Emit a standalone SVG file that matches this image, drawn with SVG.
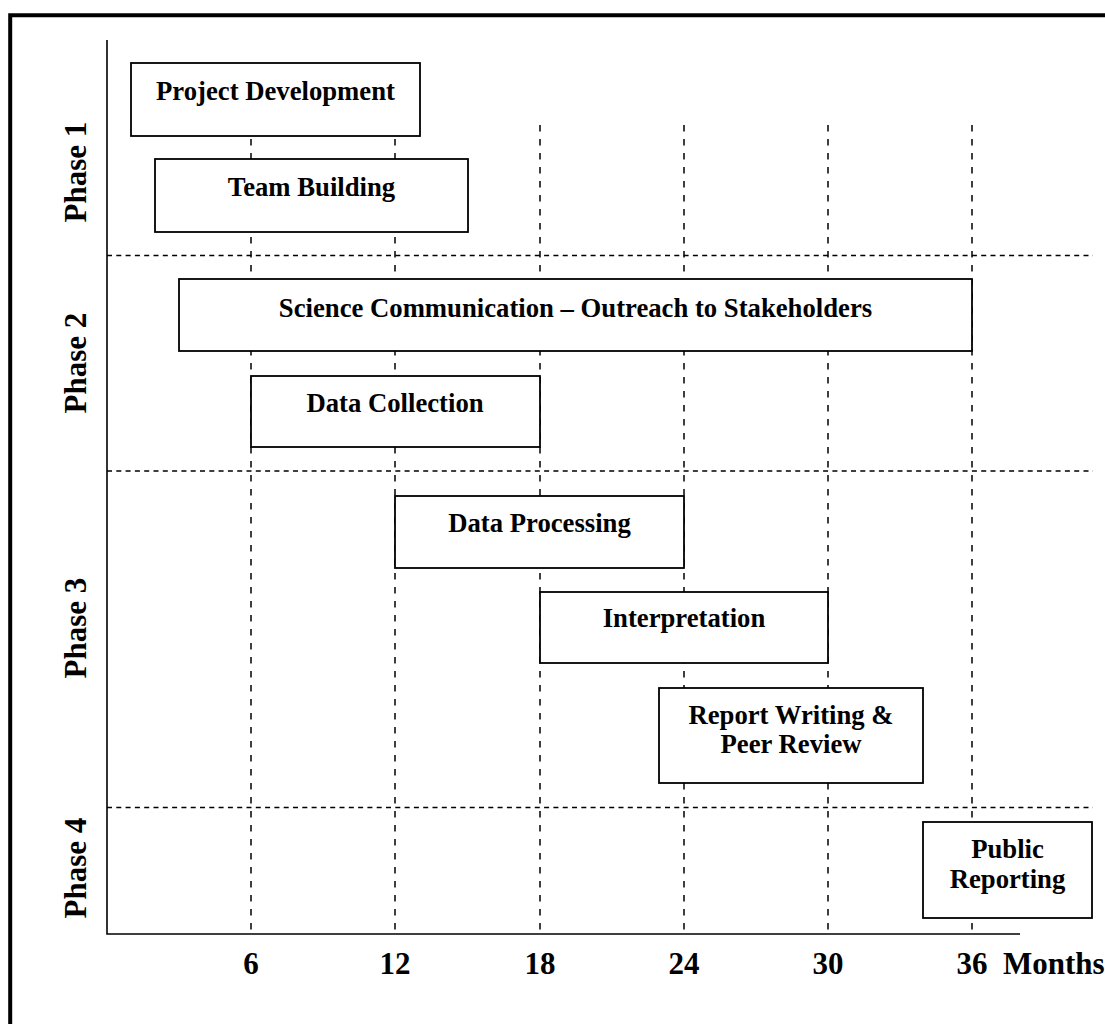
<svg xmlns="http://www.w3.org/2000/svg" width="1105" height="1024" viewBox="0 0 1105 1024">
<style>
.bg{fill:#fff}
.frame{fill:none;stroke:#000;stroke-width:4}
.axis{fill:none;stroke:#000;stroke-width:1.6}
.vdash{fill:none;stroke:#000;stroke-width:1.5;stroke-dasharray:6.5 7.5}
.hdash{fill:none;stroke:#000;stroke-width:1.5;stroke-dasharray:5 4.3}
.box{fill:#fff;stroke:#000;stroke-width:1.8}
.t{font-family:"Liberation Serif","Times New Roman",serif;font-weight:bold;font-size:26.7px;fill:#000;text-anchor:middle}
.ax{font-family:"Liberation Serif","Times New Roman",serif;font-weight:bold;font-size:31px;fill:#000;text-anchor:middle}
.ph{font-family:"Liberation Serif","Times New Roman",serif;font-weight:bold;font-size:31px;fill:#000;text-anchor:middle}
</style>
<rect class="bg" x="0" y="0" width="1105" height="1024"/>
<path class="frame" d="M10.2,1024 V15.3 H1105"/>
<g id="grid">
<path class="vdash" d="M251,125 V934 M395,125 V934 M540,125 V934 M684,125 V934 M828,125 V934 M972,125 V934"/>
<path class="hdash" d="M107,255.5 H1093 M107,471 H1093 M107,807.5 H1093"/>
</g>
<g id="axes">
<path class="axis" d="M107,40 V934 H1020"/>
<text class="ax" x="251" y="974">6</text>
<text class="ax" x="395" y="974">12</text>
<text class="ax" x="540" y="974">18</text>
<text class="ax" x="684" y="974">24</text>
<text class="ax" x="828" y="974">30</text>
<text class="ax" x="972" y="974">36</text>
<text class="ax" x="1003" y="974" style="text-anchor:start">Months</text>
</g>
<g id="phases">
<text class="ph" transform="translate(86,172) rotate(-90)">Phase 1</text>
<text class="ph" transform="translate(86,363) rotate(-90)">Phase 2</text>
<text class="ph" transform="translate(86,628) rotate(-90)">Phase 3</text>
<text class="ph" transform="translate(86,868) rotate(-90)">Phase 4</text>
</g>
<g id="project-development">
<rect class="box" x="131" y="63" width="289" height="73"/>
<text class="t" x="275.5" y="100">Project Development</text>
</g>
<g id="team-building">
<rect class="box" x="155" y="159" width="313" height="73"/>
<text class="t" x="311.5" y="196">Team Building</text>
</g>
<g id="science-communication">
<rect class="box" x="179" y="279" width="793" height="72"/>
<text class="t" x="575.5" y="317">Science Communication – Outreach to Stakeholders</text>
</g>
<g id="data-collection">
<rect class="box" x="251" y="376" width="289" height="71"/>
<text class="t" x="395" y="412">Data Collection</text>
</g>
<g id="data-processing">
<rect class="box" x="395" y="496" width="289" height="72"/>
<text class="t" x="539.5" y="532">Data Processing</text>
</g>
<g id="interpretation">
<rect class="box" x="540" y="592" width="288" height="71"/>
<text class="t" x="684" y="627">Interpretation</text>
</g>
<g id="report-writing">
<rect class="box" x="659" y="688" width="264" height="95"/>
<text class="t" x="791" y="724">Report Writing &amp;</text>
<text class="t" x="791" y="753">Peer Review</text>
</g>
<g id="public-reporting">
<rect class="box" x="923" y="822" width="169" height="96"/>
<text class="t" x="1007.5" y="858">Public</text>
<text class="t" x="1007.5" y="888">Reporting</text>
</g>
</svg>
